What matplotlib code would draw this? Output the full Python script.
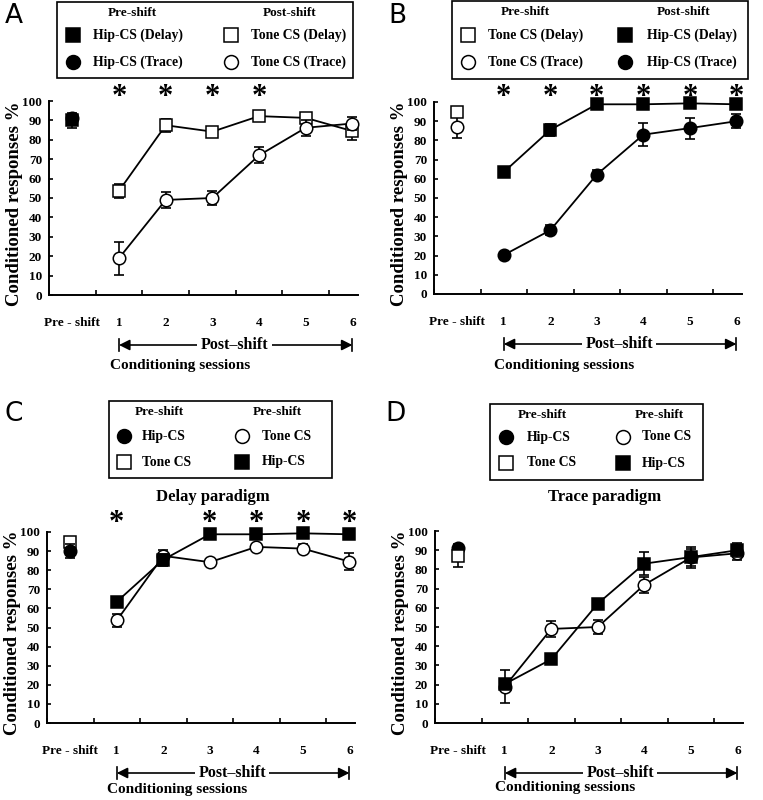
import matplotlib.pyplot as plt
from matplotlib import transforms

plt.rcParams['font.family'] = ['Liberation Serif', 'DejaVu Serif']
plt.rcParams['font.weight'] = 'bold'

# x categories
categories = ['Pre - shift', '1', '2', '3', '4', '5', '6']
sessions = [1, 2, 3, 4, 5, 6]

# post-shift data (% conditioned responses, mean and SEM)
tone_delay = [53.7, 87.5, 84.2, 92.2, 91.3, 84.5]
tone_delay_err = [3.5, 3.3, 1.5, 1.5, 2.5, 4.5]
tone_trace = [19.0, 49.0, 50.0, 72.0, 86.2, 88.4]
tone_trace_err = [8.5, 4.0, 3.6, 4.2, 4.2, 3.5]
hip_delay = [63.5, 85.5, 98.8, 98.8, 99.3, 98.8]
hip_delay_err = [1.0, 3.2, 1.0, 1.0, 1.0, 1.0]
hip_trace = [20.3, 33.2, 62.2, 83.0, 86.4, 90.0]
hip_trace_err = [1.5, 2.5, 2.5, 6.0, 5.5, 3.5]

# pre-shift data
hip_delay_pre, hip_delay_pre_err = 90.0, 3.8
hip_trace_pre, hip_trace_pre_err = 91.0, 1.5
tone_delay_pre, tone_delay_pre_err = 95.0, 1.0
tone_trace_pre, tone_trace_pre_err = 87.0, 6.0

# significance stars (session numbers)
stars_A = [1, 2, 3, 4]
stars_B = [1, 2, 3, 4, 5, 6]
stars_C = [1, 3, 4, 5, 6]

W, H = 763, 800
fig = plt.figure(figsize=(W / 100, H / 100), dpi=100)

MS = 9
LW = 1.3


def px_axes(left, top, right, bottom):
    return fig.add_axes([left / W, 1 - bottom / H, (right - left) / W, (bottom - top) / H])


def series(ax, xs, ys, errs, marker, filled, z=3):
    fc = 'black' if filled else 'white'
    ax.errorbar(xs, ys, yerr=errs, fmt='none', ecolor='black', elinewidth=1.2,
                capsize=3.5, capthick=1.2, zorder=z, clip_on=False)
    ax.plot(xs, ys, color='black', lw=LW, marker=marker, ms=MS, mfc=fc, mec='black',
            mew=1.1, zorder=z + 0.5, clip_on=False)


def setup(ax, h_px, w_px, cs_px):
    ax.set_xlim(-0.5, 6.12)
    ax.set_ylim(0, 100)
    for s in ['top', 'right']:
        ax.spines[s].set_visible(False)
    for s in ['left', 'bottom']:
        ax.spines[s].set_linewidth(1.4)
    ax.set_yticks(range(0, 101, 10))
    ax.tick_params(axis='y', direction='in', length=3, width=1.2, labelsize=9.5, pad=5)
    ax.set_xticks([i - 0.5 for i in range(7)])
    ax.set_xticklabels([])
    ax.tick_params(axis='x', which='major', direction='in', length=3.5, width=1.2)
    ax.set_xticks(range(7), minor=True)
    ax.set_xticklabels(categories, minor=True)
    ax.tick_params(axis='x', which='minor', length=0, labelsize=9.5, pad=16)
    ax.set_ylabel('Conditioned responses %', fontsize=13.5, fontweight='bold')
    ax.yaxis.set_label_coords(-26 / w_px, 0.47)

    trans = transforms.blended_transform_factory(ax.transData, ax.transAxes)
    ya = -50 / h_px
    ax.annotate('', xy=(1, ya), xytext=(6, ya), xycoords=trans, textcoords=trans,
                arrowprops=dict(arrowstyle='<|-|>', color='black', lw=1.2,
                                shrinkA=0, shrinkB=0, mutation_scale=16))
    for xe in (1, 6):
        ax.plot([xe, xe], [ya - 0.03, ya + 0.03], color='black', lw=1.2,
                transform=trans, clip_on=False)
    ax.text(3.48, ya, 'Post\u2013shift', transform=trans, ha='center', va='center',
            fontsize=11.5, fontweight='bold',
            bbox=dict(facecolor='white', edgecolor='none', pad=2.5))
    ax.text(2.3, -cs_px / h_px, 'Conditioning sessions', transform=trans, ha='center',
            va='center', fontsize=11, fontweight='bold')


def stars(ax, xs, y_px, h_px):
    trans = transforms.blended_transform_factory(ax.transData, ax.transAxes)
    for x in xs:
        ax.text(x, 1 + y_px / h_px, '*', transform=trans, ha='center', va='center',
                fontsize=22, fontweight='bold')


def legend_box(left, top, right, bottom, headers, rows):
    # headers: [(x, text)], rows: [(y, [(mx, marker, filled, tx, label)])]
    fig.patches.append(plt.Rectangle((left / W, 1 - bottom / H), (right - left) / W,
                                     (bottom - top) / H, transform=fig.transFigure,
                                     facecolor='white', edgecolor='black', lw=1.2))
    for hx, txt in headers:
        fig.text(hx / W, 1 - (top + 11) / H, txt, ha='center', va='center',
                 fontsize=9.5, fontweight='bold')
    for ry, items in rows:
        for mx, mk, filled, tx, lab in items:
            fig.lines.append(plt.Line2D([mx / W], [1 - ry / H], marker=mk, ms=MS + 1,
                                        mfc='black' if filled else 'white', mec='black',
                                        mew=1.1, transform=fig.transFigure))
            fig.text(tx / W, 1 - ry / H, lab, ha='left', va='center',
                     fontsize=9.8, fontweight='bold')


# ---- Panel A ----
axA = px_axes(49, 101, 358, 295)
setup(axA, 194, 309, 71)
series(axA, [0], [hip_trace_pre], [hip_trace_pre_err], 'o', True)
series(axA, [0], [hip_delay_pre], [hip_delay_pre_err], 's', True, z=4)
series(axA, sessions, tone_delay, tone_delay_err, 's', False)
series(axA, sessions, tone_trace, tone_trace_err, 'o', False, z=4)
stars(axA, stars_A, 4, 194)
legend_box(57, 2, 353, 78, [(132, 'Pre-shift'), (290, 'Post-shift')],
           [(35, [(73, 's', True, 93, 'Hip-CS (Delay)'), (231, 's', False, 251, 'Tone CS (Delay)')]),
            (62, [(73, 'o', True, 93, 'Hip-CS (Trace)'), (231, 'o', False, 251, 'Tone CS (Trace)')])])
fig.text(5 / W, 1 - 16 / H, 'A', family='DejaVu Sans', fontweight='normal',
         fontsize=19, ha='left', va='center')

# ---- Panel B ----
axB = px_axes(434, 102, 742, 294)
setup(axB, 192, 308, 72)
series(axB, [0], [tone_trace_pre], [tone_trace_pre_err], 'o', False)
series(axB, [0], [tone_delay_pre], [tone_delay_pre_err], 's', False, z=4)
series(axB, sessions, hip_delay, hip_delay_err, 's', True)
series(axB, sessions, hip_trace, hip_trace_err, 'o', True, z=4)
stars(axB, stars_B, 5, 192)
legend_box(452, 1, 748, 79, [(525, 'Pre-shift'), (684, 'Post-shift')],
           [(35, [(468, 's', False, 488, 'Tone CS (Delay)'), (625, 's', True, 647, 'Hip-CS (Delay)')]),
            (62, [(468, 'o', False, 488, 'Tone CS (Trace)'), (625, 'o', True, 647, 'Hip-CS (Trace)')])])
fig.text(388 / W, 1 - 16 / H, 'B', family='DejaVu Sans', fontweight='normal',
         fontsize=19, ha='left', va='center')

# ---- Panel C ----
axC = px_axes(47, 532, 355, 723)
setup(axC, 191, 308, 66)
series(axC, [0], [tone_delay_pre], [tone_delay_pre_err], 's', False)
series(axC, [0], [hip_delay_pre], [hip_delay_pre_err], 'o', True, z=4)
series(axC, sessions, tone_delay, tone_delay_err, 'o', False)
series(axC, sessions, hip_delay, hip_delay_err, 's', True, z=4)
stars(axC, stars_C, 8, 191)
legend_box(109, 401, 332, 478, [(159, 'Pre-shift'), (277, 'Pre-shift')],
           [(436, [(124, 'o', True, 142, 'Hip-CS'), (242, 'o', False, 262, 'Tone CS')]),
            (462, [(124, 's', False, 142, 'Tone CS'), (242, 's', True, 262, 'Hip-CS')])])
fig.text(213 / W, 1 - 497 / H, 'Delay paradigm', ha='center', va='center',
         fontsize=12, fontweight='bold')
fig.text(5 / W, 1 - 414 / H, 'C', family='DejaVu Sans', fontweight='normal',
         fontsize=19, ha='left', va='center')

# ---- Panel D ----
axD = px_axes(435, 531, 743, 723)
setup(axD, 192, 308, 65)
series(axD, [0], [hip_trace_pre], [hip_trace_pre_err], 'o', True)
series(axD, [0], [tone_trace_pre], [tone_trace_pre_err], 's', False, z=4)
series(axD, sessions, tone_trace, tone_trace_err, 'o', False)
series(axD, sessions, hip_trace, hip_trace_err, 's', True, z=4)
legend_box(490, 404, 703, 480, [(542, 'Pre-shift'), (659, 'Pre-shift')],
           [(437, [(506, 'o', True, 527, 'Hip-CS'), (623, 'o', False, 642, 'Tone CS')]),
            (463, [(506, 's', False, 527, 'Tone CS'), (623, 's', True, 642, 'Hip-CS')])])
fig.text(605 / W, 1 - 497 / H, 'Trace paradigm', ha='center', va='center',
         fontsize=12, fontweight='bold')
fig.text(385 / W, 1 - 414 / H, 'D', family='DejaVu Sans', fontweight='normal',
         fontsize=19, ha='left', va='center')

fig.savefig('out.png', dpi=100)
